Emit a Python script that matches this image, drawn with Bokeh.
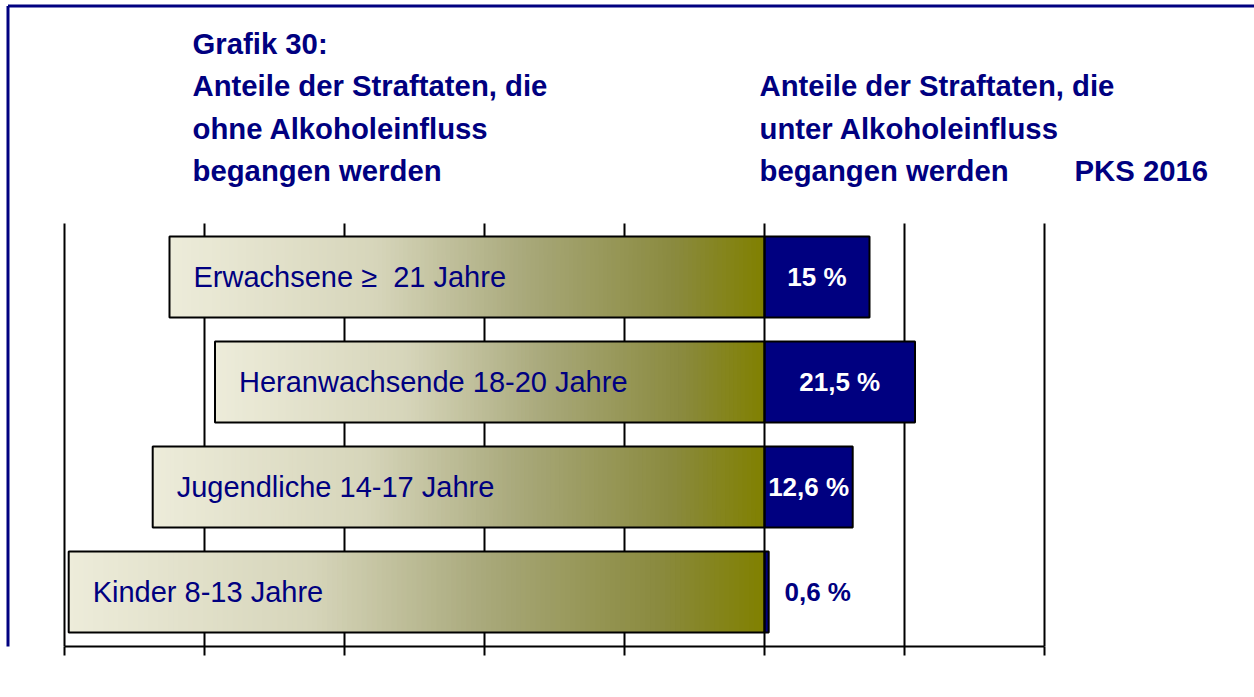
import numpy as np
from bokeh.plotting import figure
from bokeh.models import Range1d
from bokeh.embed import file_html
from bokeh.resources import INLINE
from bokeh.core.properties import value

# ---------------- data ----------------
categories = ["Erwachsene \u2265\u00a0 21 Jahre", "Heranwachsende 18-20 Jahre",
              "Jugendliche 14-17 Jahre", "Kinder 8-13 Jahre"]
alcohol = [15.0, 21.5, 12.6, 0.6]            # % unter Alkoholeinfluss
value_labels = ["15 %", "21,5 %", "12,6 %", "0,6 %"]
no_alcohol = [100.0 - a for a in alcohol]     # % ohne Alkoholeinfluss
tick_values = [-100, -80, -60, -40, -20, 0, 20, 40]

title_left = ["Grafik 30:", "Anteile der Straftaten, die", "ohne Alkoholeinfluss", "begangen werden"]
title_right = ["Anteile der Straftaten, die", "unter Alkoholeinfluss", "begangen werden"]
title_source = "PKS 2016"

# ---------------- layout / style ----------------
NAVY = "#000080"
FONT = "Liberation Sans"
W, H = 1254, 697
FRAME_BOTTOM = 646          # px from top where the axis line sits
ZERO_PX = 764               # px of the 0 % line
PX_PER_PCT = 7.0
ROW_PX = 105.0
LAST_ROW_PX = 591.5         # centre of bottom row
BAR_H = 0.77


def x_at(px):
    return (px - ZERO_PX) / PX_PER_PCT


def y_at(py):
    return 1 + (LAST_ROW_PX - py) / ROW_PX


p = figure(width=W, height=H,
           x_range=Range1d(x_at(0), x_at(W)), y_range=Range1d(y_at(FRAME_BOTTOM), y_at(0)),
           output_backend="svg", toolbar_location=None,
           min_border_left=0, min_border_right=0, min_border_top=0,
           min_border_bottom=H - FRAME_BOTTOM,
           x_axis_location="below", y_axis_location=None)
p.outline_line_color = None
p.background_fill_color = "white"
p.border_fill_color = "white"
p.xgrid.visible = False
p.ygrid.visible = False

ax = p.xaxis[0]
ax.ticker = tick_values
ax.bounds = (tick_values[0], tick_values[-1])
ax.axis_line_color = "black"
ax.axis_line_width = 2
ax.major_tick_line_color = "black"
ax.major_tick_line_width = 2
ax.major_tick_in = 0
ax.major_tick_out = 9
ax.minor_tick_line_color = None
ax.major_label_text_color = None
ax.major_label_text_font_size = "1px"

# vertical grid lines at the tick values, from plot top down to the axis
grid_top = y_at(223)
p.segment(x0=tick_values, y0=[y_at(FRAME_BOTTOM)] * len(tick_values),
          x1=tick_values, y1=[grid_top] * len(tick_values),
          line_color="black", line_width=2)

# gradient colour stops (cream -> olive)
stops_t = [0.0, 0.35, 0.6, 0.85, 1.0]
stops_c = [(237, 236, 218), (214, 213, 186), (168, 168, 122), (138, 138, 62), (128, 128, 0)]


def grad_color(t):
    r = np.interp(t, stops_t, [c[0] for c in stops_c])
    g = np.interp(t, stops_t, [c[1] for c in stops_c])
    b = np.interp(t, stops_t, [c[2] for c in stops_c])
    return "#%02x%02x%02x" % (int(round(r)), int(round(g)), int(round(b)))


ys = [len(categories) - i for i in range(len(categories))]
tops = [y + BAR_H / 2 for y in ys]
bottoms = [y - BAR_H / 2 for y in ys]

N = 140
for i, v in enumerate(no_alcohol):
    edges = np.linspace(-v, 0, N + 1)
    ts = (np.arange(N) + 0.5) / N
    p.quad(left=edges[:-1], right=edges[1:] + v * 0.002,
           top=tops[i], bottom=bottoms[i],
           fill_color=[grad_color(t) for t in ts], line_color=None)

p.quad(left=[0] * len(alcohol), right=alcohol, top=tops, bottom=bottoms,
       fill_color=NAVY, line_color="black", line_width=2)
p.quad(left=[-v for v in no_alcohol], right=[0] * len(no_alcohol), top=tops, bottom=bottoms,
       fill_color=None, line_color="black", line_width=2)

# category labels inside the left bars
p.text(x=[-v for v in no_alcohol], y=ys, text=categories, x_offset=24,
       text_baseline="middle", text_align="left", text_color=NAVY,
       text_font=value(FONT), text_font_size="29px")

# value labels
vx = [a / 2 if a > 5 else 7.6 for a in alcohol]
vc = ["white" if a > 5 else NAVY for a in alcohol]
p.text(x=vx, y=ys, text=value_labels, text_baseline="middle", text_align="center",
       text_color=vc, text_font=value(FONT), text_font_size="26px", text_font_style="bold")

# titles
baselines = [43, 85, 128, 170]
tx = [x_at(192)] * len(title_left) + [x_at(759)] * len(title_right) + [x_at(1074)]
ty = [y_at(b) for b in baselines] + [y_at(b) for b in baselines[1:]] + [y_at(baselines[-1])]
p.text(x=tx, y=ty, text=title_left + title_right + [title_source],
       text_baseline="alphabetic", text_align="left", text_color=NAVY,
       text_font=value(FONT), text_font_size="29.3px", text_font_style="bold")

# outer frame line (top and left are visible in the picture)
p.segment(x0=[x_at(7.5), x_at(7.5)], y0=[y_at(5.5), y_at(5.5)],
          x1=[x_at(W + 10), x_at(7.5)], y1=[y_at(5.5), y_at(FRAME_BOTTOM + 10)],
          line_color=NAVY, line_width=3)

open("out.html", "w").write(file_html(p, INLINE))
